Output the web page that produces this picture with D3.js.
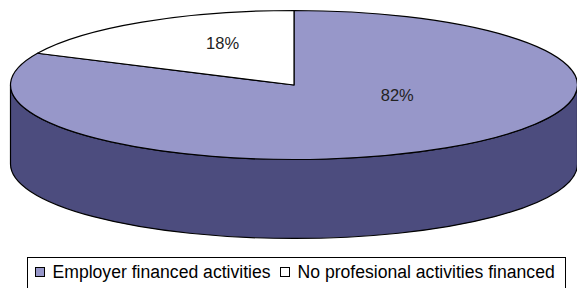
<!DOCTYPE html>
<html>
<head>
<meta charset="utf-8">
<script src="https://cdn.jsdelivr.net/npm/d3@7"></script>
<style>
  body { margin: 0; background: #fff; }
  svg { display: block; font-family: "Liberation Sans", Arial, sans-serif; }
</style>
</head>
<body>
<div id="chart"></div>
<script>
// 데이터
const categories = ["Employer financed activities", "No profesional activities financed"];
const values = [82, 18];
const labels = ["82%", "18%"];

// 색상 / 배치
const topColors = ["#9797c9", "#ffffff"];
const sideColors = ["#4c4c7e", "#b3b3b3"];
const labelFactors = [[0.68, 0.17], [0.47, 0.66]];

const width = 577, height = 288;
const cx = 294, cy = 85, rx = 283.5, ry = 74.5, depth = 79;

const svg = d3.select("#chart").append("svg")
    .attr("width", width)
    .attr("height", height);

const pie = d3.pie().sort(null).value(d => d);
const arcs = pie(values);

// 12시 방향에서 시계방향 각도 -> 타원 위의 점
function pt(a, dy = 0) {
    return [cx + rx * Math.sin(a), cy - ry * Math.cos(a) + dy];
}

// 옆면 (앞쪽 반만 보임)
const sideG = svg.append("g");
arcs.forEach((d, i) => {
    const s = Math.max(d.startAngle, Math.PI / 2);
    const e = Math.min(d.endAngle, Math.PI * 3 / 2);
    if (e <= s) return;
    const a = pt(s), b = pt(e), b2 = pt(e, depth), a2 = pt(s, depth);
    const str = `M${a[0]},${a[1]} A${rx},${ry} 0 0 1 ${b[0]},${b[1]} L${b2[0]},${b2[1]} A${rx},${ry} 0 0 0 ${a2[0]},${a2[1]} Z`;
    sideG.append("path")
        .attr("d", str)
        .attr("fill", sideColors[i])
        .attr("stroke", "#000")
        .attr("stroke-width", 1.2)
        .attr("stroke-linejoin", "round");
});

// 윗면
const topG = svg.append("g");
arcs.forEach((d, i) => {
    const a = pt(d.startAngle), b = pt(d.endAngle);
    const large = d.endAngle - d.startAngle > Math.PI ? 1 : 0;
    topG.append("path")
        .attr("d", `M${cx},${cy} L${a[0]},${a[1]} A${rx},${ry} 0 ${large} 1 ${b[0]},${b[1]} Z`)
        .attr("fill", topColors[i])
        .attr("stroke", "#000")
        .attr("stroke-width", 1.2)
        .attr("stroke-linejoin", "round");
});

// 퍼센트 라벨
arcs.forEach((d, i) => {
    const mid = (d.startAngle + d.endAngle) / 2;
    const [fx, fy] = labelFactors[i];
    svg.append("text")
        .attr("x", cx + rx * fx * Math.sin(mid))
        .attr("y", cy - ry * fy * Math.cos(mid))
        .attr("dy", "0.35em")
        .attr("text-anchor", "middle")
        .attr("font-size", 16.5)
        .attr("fill", "#222")
        .text(labels[i]);
});

// 범례
const legend = svg.append("g");
legend.append("rect")
    .attr("x", 27.5).attr("y", 257.5)
    .attr("width", 538).attr("height", 40)
    .attr("fill", "#fff")
    .attr("stroke", "#000")
    .attr("stroke-width", 1);

const legendX = [35, 280];
categories.forEach((c, i) => {
    const g = legend.append("g").attr("transform", `translate(${legendX[i]},267)`);
    g.append("rect")
        .attr("x", 0.5).attr("y", 0.5)
        .attr("width", 9).attr("height", 9)
        .attr("fill", topColors[i])
        .attr("stroke", "#000")
        .attr("stroke-width", 1);
    g.append("text")
        .attr("x", 17.5).attr("y", 11)
        .attr("font-size", 17.6)
        .attr("fill", "#000")
        .text(c);
});
</script>
</body>
</html>
